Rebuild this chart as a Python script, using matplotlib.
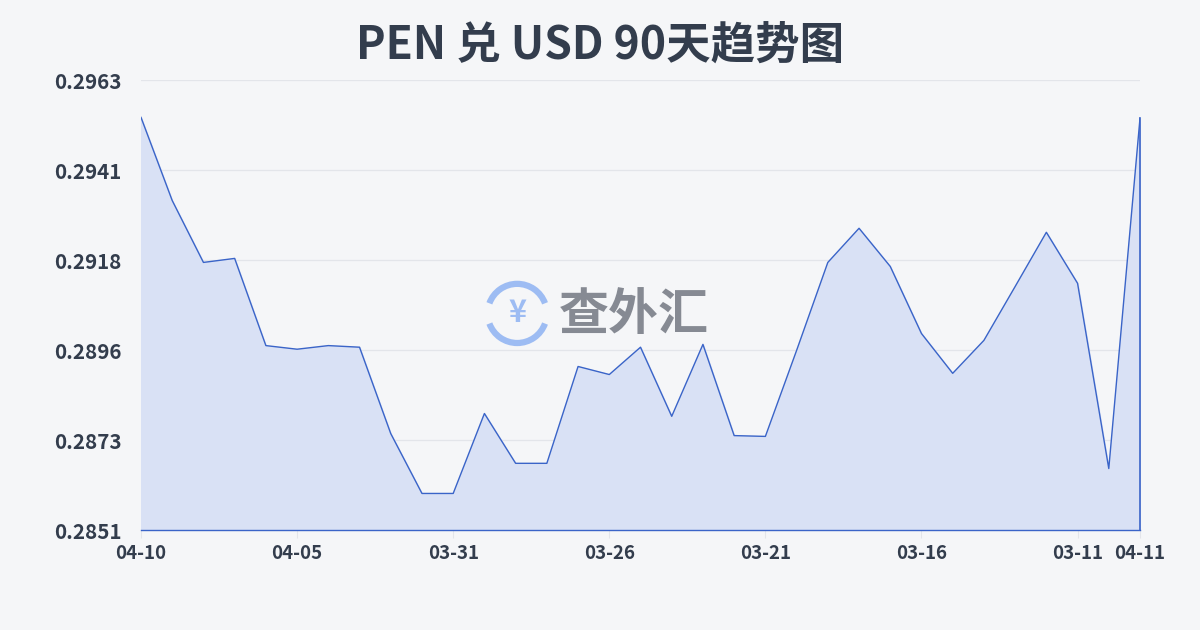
import numpy as np
import matplotlib.pyplot as plt
from matplotlib.patches import Arc

plt.rcParams['font.family'] = ['Noto Sans CJK SC', 'DejaVu Sans']

# data (newest first, as drawn)
dates = ['04-10', '04-09', '04-08', '04-07', '04-06', '04-05', '04-04', '04-03',
         '04-02', '04-01', '03-31', '03-30', '03-29', '03-28', '03-27', '03-26',
         '03-25', '03-24', '03-23', '03-22', '03-21', '03-20', '03-19', '03-18',
         '03-17', '03-16', '03-15', '03-14', '03-13', '03-12', '03-11', '03-10',
         '04-11']
rates = [0.29538, 0.29331, 0.29177, 0.29187, 0.28970, 0.28961, 0.28970, 0.28966,
         0.28751, 0.28602, 0.28602, 0.28801, 0.28677, 0.28677, 0.28918, 0.28898,
         0.28966, 0.28794, 0.28973, 0.28746, 0.28744, 0.28958, 0.29177, 0.29262,
         0.29167, 0.29000, 0.28901, 0.28983, 0.29117, 0.29252, 0.29125, 0.28664,
         0.29536]
label_idx = [0, 5, 10, 15, 20, 25, 30, 32]

ymin, ymax = 0.28511, 0.29631

fig = plt.figure(figsize=(12, 6.3), dpi=100)
fig.patch.set_facecolor('#f5f6f8')
ax = fig.add_axes([0.1175, 0.1587, 0.8325, 0.7143])
ax.set_facecolor('#f5f6f8')

x = np.arange(len(rates))
ax.fill_between(x, rates, ymin, color='#d9e1f5', zorder=2)
ax.plot(x, rates, color='#3a64c8', lw=1.0, zorder=3)
ax.plot([x[-1], x[-1]], [ymin, rates[-1]], color='#3a64c8', lw=1.2, zorder=3, clip_on=False)

ax.set_xlim(0, len(rates) - 1)
ax.set_ylim(ymin, ymax)
yt = np.linspace(ymin, ymax, 6)
ax.set_yticks(yt)
ax.set_yticklabels(['%.4f' % v for v in yt])
ax.grid(axis='y', color='#e3e5ea', lw=0.9, zorder=1)
ax.set_xticks(label_idx)
ax.set_xticklabels([dates[i] for i in label_idx])

for s in ['top', 'right', 'left']:
    ax.spines[s].set_visible(False)
ax.spines['bottom'].set_color('#3a64c8')
ax.spines['bottom'].set_linewidth(1.0)
ax.tick_params(axis='y', length=0, pad=14, labelsize=14.8, labelcolor='#333d4d')
ax.tick_params(axis='x', length=6, color='#e3e5ea', pad=4, labelsize=13.5, labelcolor='#333d4d')
for t in ax.get_yticklabels() + ax.get_xticklabels():
    t.set_fontweight('bold')

fig.text(0.5, 0.927, 'PEN 兑 USD 90天趋势图', ha='center', va='center',
         fontsize=32, fontweight='bold', color='#333d4d')

# watermark
wax = fig.add_axes([0.402, 0.445, 0.058, 0.115])
wax.set_xlim(-1, 1)
wax.set_ylim(-1, 1)
wax.set_aspect('equal')
wax.axis('off')
wax.add_patch(Arc((0, 0), 1.7, 1.7, theta1=20, theta2=160, color='#9dbcf3', lw=4.5))
wax.add_patch(Arc((0, 0), 1.7, 1.7, theta1=200, theta2=340, color='#9dbcf3', lw=4.5))
wax.text(0, 0, '¥', ha='center', va='center', fontsize=22, fontweight='bold', color='#9dbcf3')
fig.text(0.466, 0.5, '查外汇', ha='left', va='center', fontsize=36,
         fontweight='bold', color='#868a93')

fig.savefig('out.png', dpi=100, facecolor=fig.get_facecolor())
